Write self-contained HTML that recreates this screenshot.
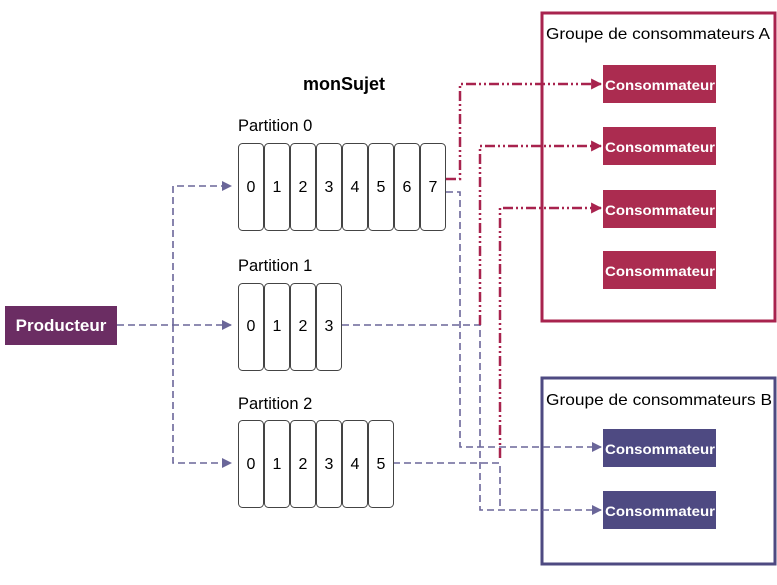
<!DOCTYPE html>
<html><head><meta charset="utf-8"><style>
body{margin:0;background:#fff;width:777px;height:585px;overflow:hidden}
svg{display:block}
text{font-family:"Liberation Sans",sans-serif}
</style></head><body>
<svg width="777" height="585" viewBox="0 0 777 585">
<defs>
<marker id="ab" viewBox="0 0 10 10" refX="9" refY="5" markerWidth="10" markerHeight="10" markerUnits="userSpaceOnUse" orient="auto"><path d="M0,0L10,5L0,10z" fill="#6a6699"/></marker>
<marker id="ar" viewBox="0 0 10 10" refX="9" refY="5" markerWidth="11" markerHeight="11" markerUnits="userSpaceOnUse" orient="auto"><path d="M0,0L10,5L0,10z" fill="#a8234e"/></marker>
</defs>
<rect x="542" y="13" width="233" height="308" fill="none" stroke="#a8234e" stroke-width="3"/>
<rect x="542" y="378" width="233" height="186" fill="none" stroke="#4e4a82" stroke-width="3"/>
<text x="546" y="39" font-size="16" textLength="224" lengthAdjust="spacingAndGlyphs">Groupe de consommateurs A</text>
<text x="546" y="405" font-size="16" textLength="226" lengthAdjust="spacingAndGlyphs">Groupe de consommateurs B</text>
<text x="344" y="90" font-size="18" font-weight="bold" text-anchor="middle">monSujet</text>
<text x="238" y="131" font-size="16.5">Partition 0</text>
<text x="238" y="271" font-size="16.5">Partition 1</text>
<text x="238" y="409" font-size="16.5">Partition 2</text>
<g fill="none" stroke-width="1.6">
<g stroke="#6a6699" stroke-dasharray="7,4">
<path d="M117,325H231" marker-end="url(#ab)"/>
<path d="M173,325V186H231" marker-end="url(#ab)"/>
<path d="M173,325V463H231" marker-end="url(#ab)"/>
<path d="M446,192H460V447H601" marker-end="url(#ab)"/>
<path d="M342,325H480V510H601" marker-end="url(#ab)"/>
<path d="M393,463H500V510"/>
</g>
<g stroke="#a8234e" stroke-width="2.5" stroke-dasharray="10,3,2,3,2,3">
<path d="M446,179H460V84H601" marker-end="url(#ar)"/>
<path d="M480,325V146H601" marker-end="url(#ar)"/>
<path d="M500,458V208H601" marker-end="url(#ar)"/>
</g>
</g>
<g font-size="16" text-anchor="middle">
<g stroke="#444" fill="#fff">
<rect x="238.5" y="143.5" width="25" height="87" rx="4"/><rect x="264.5" y="143.5" width="25" height="87" rx="4"/><rect x="290.5" y="143.5" width="25" height="87" rx="4"/><rect x="316.5" y="143.5" width="25" height="87" rx="4"/><rect x="342.5" y="143.5" width="25" height="87" rx="4"/><rect x="368.5" y="143.5" width="25" height="87" rx="4"/><rect x="394.5" y="143.5" width="25" height="87" rx="4"/><rect x="420.5" y="143.5" width="25" height="87" rx="4"/>
<rect x="238.5" y="283.5" width="25" height="87" rx="4"/><rect x="264.5" y="283.5" width="25" height="87" rx="4"/><rect x="290.5" y="283.5" width="25" height="87" rx="4"/><rect x="316.5" y="283.5" width="25" height="87" rx="4"/>
<rect x="238.5" y="420.5" width="25" height="87" rx="4"/><rect x="264.5" y="420.5" width="25" height="87" rx="4"/><rect x="290.5" y="420.5" width="25" height="87" rx="4"/><rect x="316.5" y="420.5" width="25" height="87" rx="4"/><rect x="342.5" y="420.5" width="25" height="87" rx="4"/><rect x="368.5" y="420.5" width="25" height="87" rx="4"/>
</g>
<text x="251" y="192">0</text><text x="277" y="192">1</text><text x="303" y="192">2</text><text x="329" y="192">3</text><text x="355" y="192">4</text><text x="381" y="192">5</text><text x="407" y="192">6</text><text x="433" y="192">7</text>
<text x="251" y="331">0</text><text x="277" y="331">1</text><text x="303" y="331">2</text><text x="329" y="331">3</text>
<text x="251" y="469">0</text><text x="277" y="469">1</text><text x="303" y="469">2</text><text x="329" y="469">3</text><text x="355" y="469">4</text><text x="381" y="469">5</text>
</g>
<rect x="5" y="306" width="112" height="39" fill="#6b2d63"/>
<text x="61" y="331" font-size="17" font-weight="bold" fill="#fff" text-anchor="middle">Producteur</text>
<g fill="#ab2c50"><rect x="603" y="65" width="113" height="38"/><rect x="603" y="127" width="113" height="38"/><rect x="603" y="190" width="113" height="38"/><rect x="603" y="251" width="113" height="38"/></g>
<g fill="#4e4a82"><rect x="603" y="429" width="113" height="38"/><rect x="603" y="491" width="113" height="38"/></g>
<g font-size="14" font-weight="bold" fill="#fff" text-anchor="middle">
<text x="660" y="90" textLength="110" lengthAdjust="spacingAndGlyphs">Consommateur</text><text x="660" y="152" textLength="110" lengthAdjust="spacingAndGlyphs">Consommateur</text><text x="660" y="215" textLength="110" lengthAdjust="spacingAndGlyphs">Consommateur</text><text x="660" y="276" textLength="110" lengthAdjust="spacingAndGlyphs">Consommateur</text><text x="660" y="454" textLength="110" lengthAdjust="spacingAndGlyphs">Consommateur</text><text x="660" y="516" textLength="110" lengthAdjust="spacingAndGlyphs">Consommateur</text>
</g>
</svg>
</body></html>
